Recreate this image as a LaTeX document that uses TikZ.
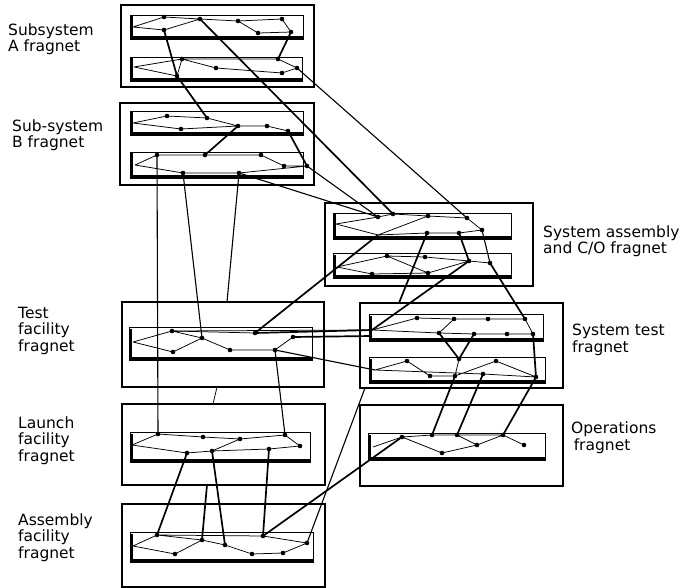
\documentclass[tikz,border=0pt]{standalone}
\usepackage{fontspec}
\setmainfont{DejaVu Sans}
\newcommand\fstrip[4]{%
  \draw[stripline] (#1,#2) rectangle (#3,#4);
  \draw[stripshade] (#1+1.3,#2+1.5) -- (#1+1.3,#4-1.3) -- (#3,#4-1.3);}
\newcommand\fdots[1]{\foreach \n in {#1} {\fill (\n) circle (2.3);}}
\begin{document}
\begin{tikzpicture}[x=1pt,y=-1pt,
  outer/.style={draw,line width=1.1pt},
  stripline/.style={draw,line width=0.9pt},
  stripshade/.style={line width=2.6pt},
  net/.style={line width=0.75pt},
  link/.style={line width=1.7pt},
  mid/.style={line width=1.1pt},
  lab/.style={anchor=base west,inner sep=0pt,align=left,font=\fontsize{15.5}{16.5}\selectfont}]
\useasboundingbox (0,0) rectangle (680,588);
% ---------- outer boxes ----------
\draw[outer] (121,5) rectangle (314,87);
\draw[outer] (120,103) rectangle (314,185);
\draw[outer] (325,203) rectangle (533,286);
\draw[outer] (122,302) rectangle (324,387);
\draw[outer] (360,303) rectangle (563,388);
\draw[outer] (122,404) rectangle (325,485);
\draw[outer] (360,405) rectangle (563,486);
\draw[outer] (122,504) rectangle (325,587);
% ---------- strips ----------
\fstrip{130}{15}{303}{39}
\fstrip{130}{57}{302}{81}
\fstrip{130}{111}{303}{135}
\fstrip{130}{152}{303}{178}
\fstrip{333}{213}{511}{239}
\fstrip{333}{253}{511}{278}
\fstrip{129}{327}{312}{360}
\fstrip{369}{314}{543}{341}
\fstrip{369}{357}{545}{383}
\fstrip{130}{432}{310}{462}
\fstrip{368}{433}{545}{460}
\fstrip{130}{532}{313}{562}
% ---------- labels (anchor = baseline of last line) ----------
\node[lab] (lA) at (8,52) {Subsystem\\A fragnet};
\node[lab] (lB) at (12,148) {Sub-system\\B fragnet};
\node[lab] (lSA) at (543,254) {System assembly\\and C/O fragnet};
\node[lab] (lTF) at (18,351) {Test\\facility\\fragnet};
\node[lab] (lST) at (572,352) {System test\\fragnet};
\node[lab] (lLF) at (18,461) {Launch\\facility\\fragnet};
\node[lab] (lOP) at (571,450) {Operations\\\,fragnet};
\node[lab] (lAF) at (18,558) {Assembly\\facility\\fragnet};
% ---------- coordinates ----------
% A1
\coordinate (a1s) at (133,27); \coordinate (a1a) at (164,17); \coordinate (a1b) at (200,19);
\coordinate (a1c) at (238,21); \coordinate (a1d) at (282,19); \coordinate (a1e) at (291,32);
\coordinate (a1f) at (258,33); \coordinate (a1g) at (164,30);
% A2
\coordinate (a2s) at (134,67); \coordinate (a2a) at (182,59); \coordinate (a2b) at (177,76);
\coordinate (a2c) at (216,68); \coordinate (a2e) at (278,59); \coordinate (a2f) at (282,73);
\coordinate (a2g) at (297,68);
% B1
\coordinate (b1s) at (133,123); \coordinate (b1a) at (167,116); \coordinate (b1b) at (181,129);
\coordinate (b1c) at (207,118); \coordinate (b1d) at (238,126); \coordinate (b1e) at (267,126);
\coordinate (b1f) at (288,131);
% B2
\coordinate (b2s) at (135,165); \coordinate (b2a) at (157,155); \coordinate (b2b) at (183,173);
\coordinate (b2c) at (205,155); \coordinate (b2d) at (239,173); \coordinate (b2e) at (261,155);
\coordinate (b2f) at (284,166); \coordinate (b2g) at (307,166);
% SA1
\coordinate (sa1s) at (336,224); \coordinate (sa1b) at (378,217); \coordinate (sa1c) at (393,214);
\coordinate (sa1d) at (428,216); \coordinate (sa1e) at (467,218); \coordinate (sa1f) at (482,230);
\coordinate (sa1g) at (378,235); \coordinate (sa1h) at (427,233); \coordinate (sa1i) at (459,233);
% SA2
\coordinate (sa2s) at (337,267); \coordinate (sa2a) at (387,256); \coordinate (sa2b) at (425,257);
\coordinate (sa2c) at (372,274); \coordinate (sa2d) at (428,273); \coordinate (sa2e) at (469,261);
\coordinate (sa2f) at (490,263);
% TF
\coordinate (tfs) at (133,342); \coordinate (tfa) at (172,331); \coordinate (tfb) at (173,352);
\coordinate (tfc) at (202,338); \coordinate (tfe) at (230,350); \coordinate (tfd) at (255,333);
\coordinate (tff) at (275,350); \coordinate (tfg) at (293,337);
\coordinate (tftop) at (227,302); \coordinate (tfbot) at (217,387);
% ST1
\coordinate (st1s) at (372,330); \coordinate (st1t) at (372,336); \coordinate (st1a) at (417,318);
\coordinate (st1b) at (454,319); \coordinate (st1c) at (488,319); \coordinate (st1d) at (525,319);
\coordinate (st1e) at (439,333); \coordinate (st1f) at (474,334); \coordinate (st1g) at (507,334);
\coordinate (st1h) at (533,334); \coordinate (sttop) at (399,303); \coordinate (stbot) at (365,388);
% ST2
\coordinate (st2s) at (375,370); \coordinate (st2b) at (407,361); \coordinate (st2c) at (430,376);
\coordinate (st2d) at (455,376); \coordinate (st2a) at (459,359); \coordinate (st2e) at (483,374);
\coordinate (st2f) at (496,361); \coordinate (st2g) at (536,377);
% LF
\coordinate (lftop) at (213,404); \coordinate (lfbot) at (207,485);
\coordinate (lfs) at (132,445); \coordinate (lfa) at (158,434); \coordinate (lfb) at (203,437);
\coordinate (lfc) at (240,439); \coordinate (lfd) at (285,435); \coordinate (lfe) at (300,446);
\coordinate (lff) at (187,453); \coordinate (lfg) at (212,451); \coordinate (lfh) at (269,449);
% OPS
\coordinate (ops) at (373,447); \coordinate (opa) at (402,437); \coordinate (opb) at (432,435);
\coordinate (opc) at (457,435); \coordinate (opd) at (503,435); \coordinate (ope) at (524,445);
\coordinate (opf) at (442,453); \coordinate (opg) at (477,445);
% AF
\coordinate (afs) at (133,546); \coordinate (afa) at (157,535); \coordinate (afb) at (175,554);
\coordinate (afc) at (202,540); \coordinate (afd) at (225,545); \coordinate (afe) at (252,554);
\coordinate (aff) at (283,553); \coordinate (afg) at (263,536); \coordinate (afh) at (307,543);
% ---------- networks inside strips ----------
\draw[net] (a1s)--(a1a)--(a1b)--(a1c)--(a1d)--(a1e) (a1c)--(a1f)--(a1e) (a1s)--(a1g)--(a1b);
\draw[net] (a2s)--(a2a)--(a2b)--(a2s) (a2a)--(a2c)--(a2f)--(a2g) (a2a)--(a2e)--(a2g);
\draw[net] (b1s)--(b1a)--(b1c)--(b1d)--(b1e)--(b1f) (b1s)--(b1b)--(b1d);
\draw[net] (b2s)--(b2a)--(b2c)--(b2e)--(b2f)--(b2g) (b2s)--(b2b)--(b2d)--(b2g);
\draw[net] (sa1s)--(sa1b)--(sa1c)--(sa1d)--(sa1e)--(sa1f) (sa1s)--(sa1g)--(sa1d) (sa1g)--(sa1h)--(sa1i)--(sa1f);
\draw[net] (sa2s)--(sa2a)--(sa2b)--(sa2e)--(sa2f) (sa2s)--(sa2c)--(sa2d)--(sa2e) (sa2a)--(sa2d);
\draw[net] (tfs)--(tfa)--(tfc) (tfs)--(tfb)--(tfc)--(tfe)--(tff)--(tfg) (tfa)--(tfd);
\draw[net] (st1s)--(st1a)--(st1b)--(st1c)--(st1d)--(st1h) (st1b)--(st1e)--(st1f)--(st1g)--(st1h) (st1s)--(st1e);
\draw[net] (st2s)--(st2b)--(st2c)--(st2d)--(st2f)--(st2g) (st2s)--(st2e)--(st2g) (st2a)--(st2d);
\draw[net] (lfs)--(lfa)--(lfb)--(lfc)--(lfd)--(lfe) (lfs)--(lff)--(lfg)--(lfc) (lfg)--(lfh)--(lfe);
\draw[net] (ops)--(opa)--(opb)--(opc)--(opd)--(ope) (opa)--(opf)--(opg)--(opd) (opc)--(opg);
\draw[net] (afs)--(afa)--(afg)--(afh) (afs)--(afb)--(afc)--(afd)--(afe)--(aff)--(afh) (afa)--(afc);
% ---------- links between fragnets ----------
\draw[link] (a1e)--(a2e) (a1g)--(a2b)--(b1c) (a1b)--(sa1c);
\draw[mid] (a2g)--(sa1e);
\draw[link] (b1d)--(b2c) (b1f)--(b2g);
\draw[mid] (b2g)--(sa1b) (b2d)--(sa1b);
\draw[mid] (b2a)--(lfa) (b2b)--(tfc) (b2d)--(tftop);
\draw[link] (sa1i)--(sa2e);
\draw[mid] (sa1f)--(sa2f);
\draw[link] (sa1h)--(sttop) (sa2e)--(st1s) (sa2f)--(st1d);
\draw[link] (tfd)--(sa1g) (tfd)--(st1s) (tfg)--(st1t);
\draw[net] (tfa)--(st1s);
\draw[mid] (tff)--(st2s) (tff)--(lfd);
\draw[net] (tfbot)--(lftop);
\draw[link] (st1e)--(st2a) (st1f)--(st2a) (st1h)--(st2g);
\draw[link] (st2d)--(opb) (st2e)--(opc) (st2g)--(opd);
\draw[link] (lff)--(afa) (lfg)--(afd) (lfh)--(afg) (lfbot)--(afc);
\draw[link] (afg)--(opa);
\draw[mid] (afh)--(stbot);
% ---------- dots ----------
\fdots{a1a,a1b,a1c,a1d,a1e,a1f,a1g,a2a,a2b,a2c,a2e,a2f,a2g,
       b1a,b1b,b1c,b1d,b1e,b1f,b2a,b2b,b2c,b2d,b2e,b2f,b2g,
       sa1b,sa1c,sa1d,sa1e,sa1f,sa1h,sa1i,sa2a,sa2b,sa2c,sa2d,sa2e,sa2f,
       tfa,tfb,tfc,tfd,tfe,tff,tfg,
       st1a,st1b,st1c,st1d,st1e,st1f,st1g,st1h,st2a,st2b,st2c,st2d,st2e,st2f,st2g,
       lfa,lfb,lfc,lfd,lfe,lff,lfg,lfh,
       opa,opb,opc,opd,ope,opf,opg,
       afa,afb,afc,afd,afe,aff,afg,afh}
\end{tikzpicture}
\end{document}
